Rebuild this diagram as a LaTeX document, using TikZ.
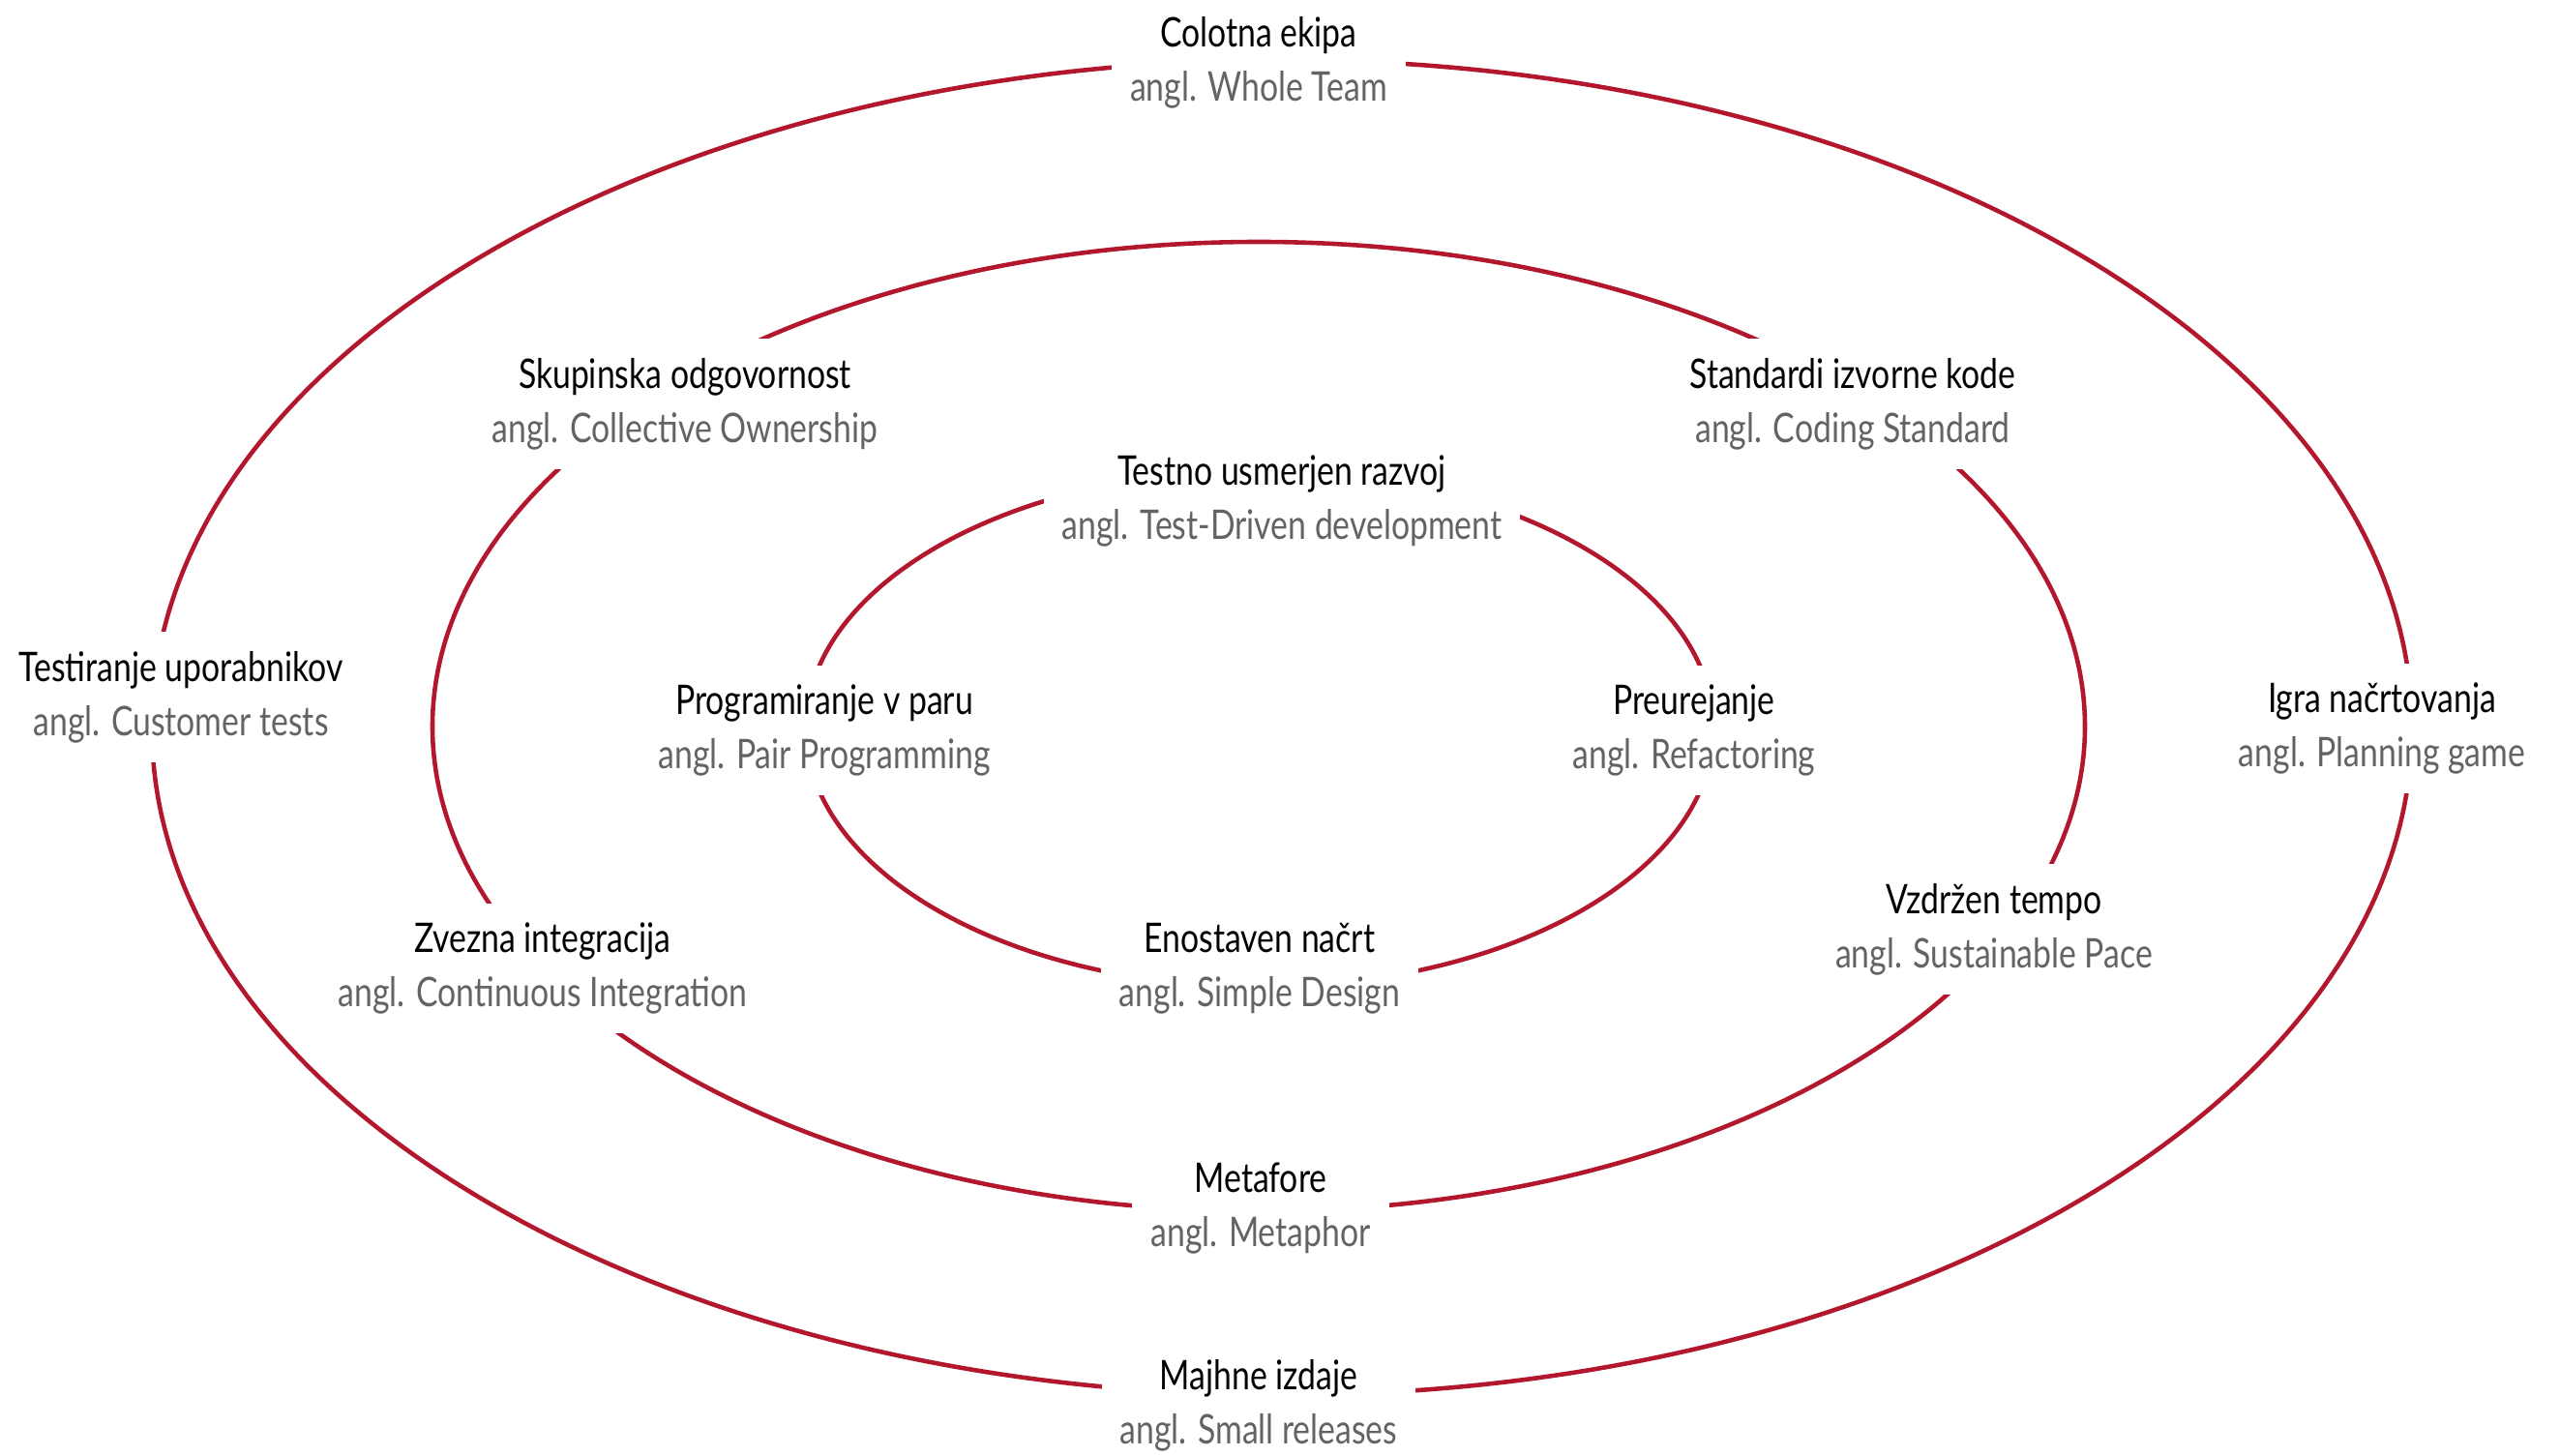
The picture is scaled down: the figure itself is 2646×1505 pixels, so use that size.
\documentclass[tikz,border=0pt]{standalone}
\usepackage{fontspec}
\setmainfont[FakeStretch=0.8]{Lato}
\usetikzlibrary{calc}
\definecolor{rdeca}{HTML}{B3172D}
\definecolor{siva}{HTML}{636363}
\tikzset{
  krog/.style={draw=rdeca, line width=1.3pt},
  praksa/.style={fill=white, align=center, inner xsep=1.9mm, inner ysep=2mm,
    font=\fontsize{12}{16}\selectfont},
}
\newcommand{\angl}[1]{\textcolor{siva}{angl. #1}}

\begin{document}
\begin{tikzpicture}[x=0.1mm, y=0.1mm]
    \useasboundingbox (0,0) rectangle (2646,1505);

    % Središča treh elips
    \coordinate (O1) at (1325,753);
    \coordinate (O2) at (1301,754);
    \coordinate (O3) at (1302,752);

    \draw[krog] (O1) ellipse [x radius=1168, y radius=690];
    \draw[krog] (O2) ellipse [x radius=854, y radius=501];
    \draw[krog] (O3) ellipse [x radius=469, y radius=267];

    % Zunanja elipsa
    \node[praksa] (colotna) at (1301,1440) {Colotna ekipa\\\angl{Whole Team}};
    \node[praksa] (testiranje) at (187,784) {Testiranje uporabnikov\\\angl{Customer tests}};
    \node[praksa] (igra) at (2462,752) {Igra načrtovanja\\\angl{Planning game}};
    \node[praksa] (majhne) at (1301,52) {Majhne izdaje\\\angl{Small releases}};

    % Srednja elipsa
    \node[praksa] (skupinska) at (708,1087) {Skupinska odgovornost\\\angl{Collective Ownership}};
    \node[praksa] (standardi) at (1915,1087) {Standardi izvorne kode\\\angl{Coding Standard}};
    \node[praksa] (zvezna) at (561,504) {Zvezna integracija\\\angl{Continuous Integration}};
    \node[praksa] (vzdrzen) at (2061,544) {Vzdržen tempo\\\angl{Sustainable Pace}};
    \node[praksa] (metafore) at (1303,256) {Metafore\\\angl{Metaphor}};

    % Notranja elipsa
    \node[praksa] (testno) at (1325,987) {Testno usmerjen razvoj\\\angl{Test-Driven development}};
    \node[praksa] (programiranje) at (852,750) {Programiranje v paru\\\angl{Pair Programming}};
    \node[praksa] (preurejanje) at (1751,750) {Preurejanje\\\angl{Refactoring}};
    \node[praksa] (enostaven) at (1302,504) {Enostaven načrt\\\angl{Simple Design}};
\end{tikzpicture}
\end{document}
